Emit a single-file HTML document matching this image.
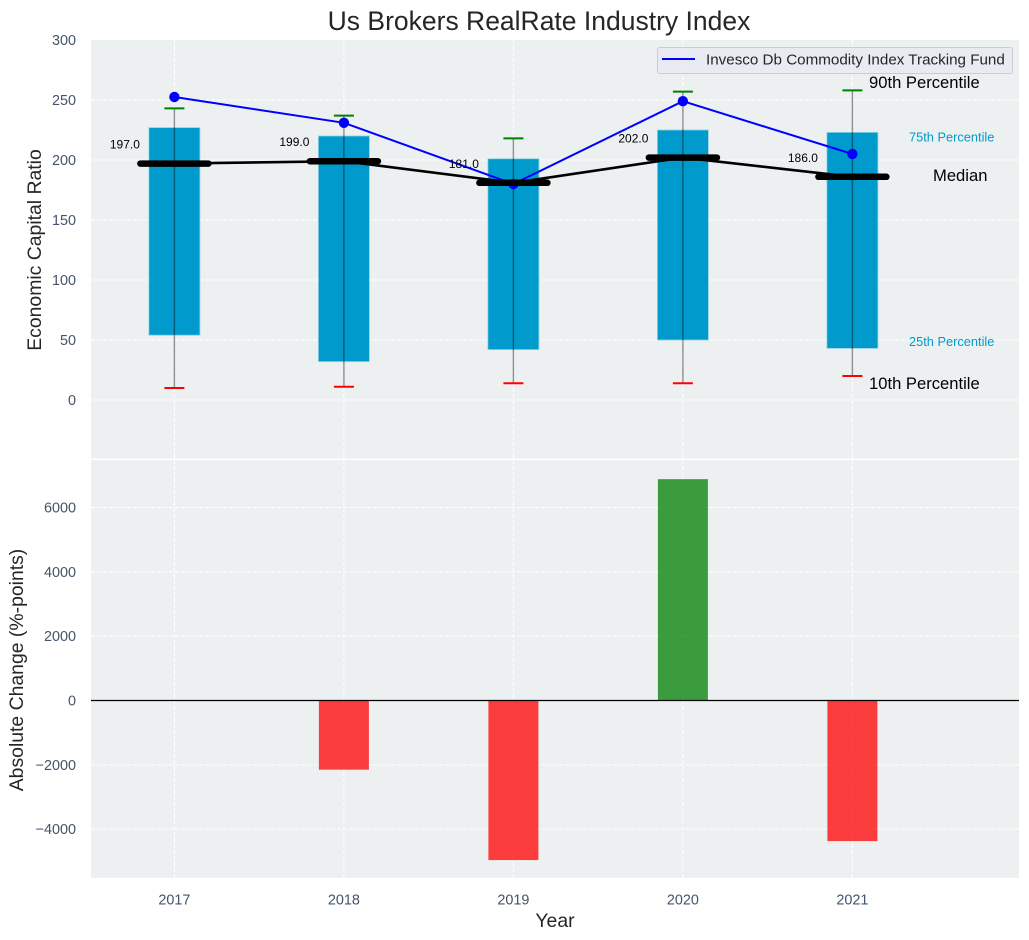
<!DOCTYPE html>
<html lang="en">
<head>
<meta charset="utf-8">
<title>Us Brokers RealRate Industry Index</title>
<style>
html,body{margin:0;padding:0;background:#fff;}
svg{display:block;}
text{font-family:"Liberation Sans",Arial,sans-serif;}
</style>
</head>
<body>
<svg id="chart" xmlns="http://www.w3.org/2000/svg" width="1029" height="940" viewBox="0 0 1029 940"></svg>
<script>
const years = [2017, 2018, 2019, 2020, 2021];
const p10 = [10, 11, 14, 14, 20];
const p25 = [54, 32, 42, 50, 43];
const medians = [197, 199, 181, 202, 186];
const p75 = [227, 220, 201, 225, 223];
const p90 = [243, 237, 218, 257, 258];
const fundValues = [252.5, 231, 180, 249, 205];
const absChange = [null, -2150, -4960, 6880, -4370];
const topTicks = [0, 50, 100, 150, 200, 250, 300];
const bottomTicks = [-4000, -2000, 0, 2000, 4000, 6000];

const svg = document.getElementById('chart');
const NS = 'http://www.w3.org/2000/svg';
const xPos = function (yr) { return 174.4 + (yr - 2017) * 169.5; };
const yTop = function (v) { return 400 - v * 1.2; };
const yBot = function (v) { return 700.5 - v * 0.03217; };
const L = 91, R = 1019;

function mk(tag, attrs, txt) {
  const e = document.createElementNS(NS, tag);
  for (const k in attrs) e.setAttribute(k, attrs[k]);
  if (txt !== undefined) e.textContent = txt;
  svg.appendChild(e);
  return e;
}
function fmtTick(v) { return (v < 0 ? '\u2212' : '') + Math.abs(v); }

let el;
el = mk('rect', {x: L, y: 40, width: R - L, height: 418.5, fill: '#ecf0f1'});


el = mk('rect', {x: L, y: 460, width: R - L, height: 418, fill: '#ecf0f1'});



const gridStyle = {stroke: '#ffffff', 'stroke-width': 1, 'stroke-dasharray': '4 2'};
topTicks.forEach(function (t) {
  const y = yTop(t);
  if (t < 300) {
    const g = mk('line', Object.assign({x1: L, x2: R, y1: y, y2: y}, gridStyle));
    
    
  }
  const lb = mk('text', {x: 76, y: y + 5, 'text-anchor': 'end', 'font-size': 14.4, fill: '#44546a'}, fmtTick(t));
  
  
});
bottomTicks.forEach(function (t) {
  const y = yBot(t);
  const g = mk('line', Object.assign({x1: L, x2: R, y1: y, y2: y}, gridStyle));
  
  
  const lb = mk('text', {x: 76, y: y + 5, 'text-anchor': 'end', 'font-size': 14.4, fill: '#44546a'}, fmtTick(t));
  
  
});
years.forEach(function (yr) {
  const x = xPos(yr);
  const g1 = mk('line', Object.assign({x1: x, x2: x, y1: 40, y2: 458.5}, gridStyle));
  
  
  const g2 = mk('line', Object.assign({x1: x, x2: x, y1: 460, y2: 878}, gridStyle));
  
  
  const lb = mk('text', {x: x, y: 904.5, 'text-anchor': 'middle', 'font-size': 14.4, fill: '#44546a'}, String(yr));
  
  
});

years.forEach(function (yr, i) {
  const x = xPos(yr);
  const b = mk('rect', {x: x - 25.5, y: yTop(p75[i]), width: 51, height: yTop(p25[i]) - yTop(p75[i]), fill: '#009acd', stroke: '#8fd0e6', 'stroke-width': 0.8});
  
  
});

const medianPts = years.map(function (yr, i) { return xPos(yr) + ',' + yTop(medians[i]); }).join(' ');
el = mk('polyline', {points: medianPts, fill: 'none', stroke: '#000', 'stroke-width': 2.6});



years.forEach(function (yr, i) {
  const x = xPos(yr);
  const w = mk('line', {x1: x, x2: x, y1: yTop(p10[i]), y2: yTop(p90[i]), stroke: '#000', 'stroke-opacity': 0.42, 'stroke-width': 1.4});
  
  
  const hi = mk('line', {x1: x - 10, x2: x + 10, y1: yTop(p90[i]), y2: yTop(p90[i]), stroke: '#008000', 'stroke-width': 2});
  
  
  const lo = mk('line', {x1: x - 10, x2: x + 10, y1: yTop(p10[i]), y2: yTop(p10[i]), stroke: '#ff0000', 'stroke-width': 2});
  
  
});

const fundPts = years.map(function (yr, i) { return xPos(yr) + ',' + yTop(fundValues[i]); }).join(' ');
el = mk('polyline', {points: fundPts, fill: 'none', stroke: '#0000ff', 'stroke-width': 2});


years.forEach(function (yr, i) {
  const p = mk('circle', {cx: xPos(yr), cy: yTop(fundValues[i]), r: 5.2, fill: '#0000ff'});
  
  
});

years.forEach(function (yr, i) {
  const x = xPos(yr);
  const y = yTop(medians[i]);
  const m = mk('line', {x1: x - 34, x2: x + 34, y1: y, y2: y, stroke: '#000', 'stroke-width': 6.5, 'stroke-linecap': 'round'});
  
  
  const t = mk('text', {x: x - 49.5, y: y - 15, 'text-anchor': 'middle', 'font-size': 12, fill: '#000'}, medians[i].toFixed(1));
  
  
});

years.forEach(function (yr, i) {
  const v = absChange[i];
  if (v === null) return;
  const x = xPos(yr);
  const y0 = yBot(0), y1 = yBot(v);
  const b = mk('rect', {x: x - 25, y: Math.min(y0, y1), width: 50, height: Math.abs(y1 - y0), fill: v >= 0 ? '#008000' : '#ff0000', 'fill-opacity': 0.75});
  
  
});
el = mk('line', {x1: L, x2: R, y1: yBot(0), y2: yBot(0), stroke: '#000', 'stroke-width': 1.3});



el = mk('text', {x: 539, y: 30, 'text-anchor': 'middle', 'font-size': 26.5, fill: '#262626'}, 'Us Brokers RealRate Industry Index');


el = mk('text', {x: 0, y: 0, transform: 'translate(41 250) rotate(-90)', 'text-anchor': 'middle', 'font-size': 19.4, fill: '#262626'}, 'Economic Capital Ratio');


el = mk('text', {x: 0, y: 0, transform: 'translate(23 670) rotate(-90)', 'text-anchor': 'middle', 'font-size': 19.4, fill: '#262626'}, 'Absolute Change (%-points)');


el = mk('text', {x: 555, y: 927, 'text-anchor': 'middle', 'font-size': 19.4, fill: '#262626'}, 'Year');



el = mk('rect', {x: 657.5, y: 47.5, width: 355, height: 26, rx: 2.5, fill: '#eaeaf2', 'fill-opacity': 0.85, stroke: '#cccccc', 'stroke-width': 1});


el = mk('line', {x1: 662, x2: 695, y1: 59, y2: 59, stroke: '#0000ff', 'stroke-width': 2});


el = mk('text', {x: 706, y: 64.5, 'font-size': 15.2, fill: '#262626'}, 'Invesco Db Commodity Index Tracking Fund');



el = mk('text', {x: 869, y: 88, 'font-size': 16.6, fill: '#000'}, '90th Percentile');


el = mk('text', {x: 869, y: 389, 'font-size': 16.6, fill: '#000'}, '10th Percentile');


el = mk('text', {x: 933, y: 181, 'font-size': 16.6, fill: '#000'}, 'Median');


el = mk('text', {x: 909, y: 141.5, 'font-size': 12.8, fill: '#009acd'}, '75th Percentile');


el = mk('text', {x: 909, y: 346, 'font-size': 12.8, fill: '#009acd'}, '25th Percentile');


</script>
</body>
</html>
